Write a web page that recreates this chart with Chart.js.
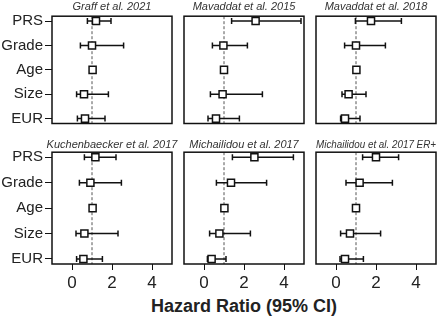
<!DOCTYPE html>
<html>
<head>
  <title>Hazard Ratio forest plots</title>
  <meta charset="UTF-8" />
  <script src="https://cdn.jsdelivr.net/npm/chart.js"></script>
  <style>
    body {
      margin: 0;
      width: 440px;
      height: 320px;
      overflow: hidden;
      position: relative;
      background: #fff;
      font-family: "Liberation Sans", Arial, sans-serif;
    }
    canvas { position: absolute; }
    #xtitle {
      position: absolute;
      left: 144px;
      width: 200px;
      top: 296px;
      line-height: 20px;
      text-align: center;
      font-weight: bold;
      font-size: 18px;
      color: #222;
      white-space: nowrap;
    }
  </style>
</head>
<body>
  <div id="xtitle">Hazard Ratio (95% CI)</div>

  <script>
    // categories (top to bottom) and study titles
    const categories = ['PRS', 'Grade', 'Age', 'Size', 'EUR'];
    const studies = [
      'Graff et al. 2021',
      'Mavaddat et al. 2015',
      'Mavaddat et al. 2018',
      'Kuchenbaecker et al. 2017',
      'Michailidou et al. 2017',
      'Michailidou et al. 2017 ER+'
    ];

    // hazard ratio, lower and upper 95% CI, one entry per category
    const hrGraff2021 = [1.2, 1.0, 1.03, 0.6, 0.65];
    const loGraff2021 = [0.77, 0.42, 0.97, 0.23, 0.27];
    const hiGraff2021 = [1.95, 2.58, 1.08, 1.82, 1.65];

    const hrMavaddat2015 = [2.58, 0.97, 1.0, 0.93, 0.6];
    const loMavaddat2015 = [1.38, 0.42, 0.95, 0.32, 0.2];
    const hiMavaddat2015 = [4.85, 2.17, 1.05, 2.92, 1.77];

    const hrMavaddat2018 = [1.75, 1.0, 1.02, 0.63, 0.45];
    const loMavaddat2018 = [0.97, 0.43, 0.97, 0.3, 0.23];
    const hiMavaddat2018 = [3.27, 2.47, 1.07, 1.5, 1.2];

    const hrKuchenbaecker2017 = [1.17, 0.92, 1.03, 0.62, 0.57];
    const loKuchenbaecker2017 = [0.62, 0.37, 0.98, 0.2, 0.23];
    const hiKuchenbaecker2017 = [2.2, 2.47, 1.08, 2.3, 1.52];

    const hrMichailidou2017 = [2.52, 1.35, 1.02, 0.77, 0.38];
    const loMichailidou2017 = [1.42, 0.62, 0.97, 0.28, 0.17];
    const hiMichailidou2017 = [4.47, 3.13, 1.07, 2.32, 1.1];

    const hrMichailidou2017ER = [2.0, 1.18, 1.0, 0.7, 0.45];
    const loMichailidou2017ER = [1.33, 0.5, 0.95, 0.23, 0.2];
    const hiMichailidou2017ER = [3.13, 2.82, 1.05, 2.23, 1.37];

    const xTicks = [0, 2, 4];
    const xMin = -1, xMax = 5;
    const yMin = -0.2, yMax = 4.2;
    const refValue = 1;

    const panelData = [
      [hrGraff2021, loGraff2021, hiGraff2021],
      [hrMavaddat2015, loMavaddat2015, hiMavaddat2015],
      [hrMavaddat2018, loMavaddat2018, hiMavaddat2018],
      [hrKuchenbaecker2017, loKuchenbaecker2017, hiKuchenbaecker2017],
      [hrMichailidou2017, loMichailidou2017, hiMichailidou2017],
      [hrMichailidou2017ER, loMichailidou2017ER, hiMichailidou2017ER]
    ];

    // canvas placement per column / row (left/right gutters keep the title centred)
    const colLayout = [
      { left: 0, width: 224, gutterL: 52, gutterR: 52, padLeft: 0, padRight: 0 },
      { left: 174, width: 140, gutterL: 0, gutterR: 0, padLeft: 10, padRight: 10 },
      { left: 306, width: 140, gutterL: 0, gutterR: 0, padLeft: 10, padRight: 10 }
    ];
    const rowLayout = [
      { top: 0, height: 130, titlePad: { top: 0, bottom: 3 }, padBottom: 4 },
      { top: 130, height: 160, titlePad: { top: 8, bottom: 1 }, padBottom: 0 }
    ];

    const FONT = '"Liberation Sans", Arial, sans-serif';
    const INK = '#111';

    const boxPlugin = {
      id: 'box',
      afterDatasetsDraw(chart) {
        const { ctx, chartArea: a } = chart;
        ctx.save();
        ctx.strokeStyle = INK;
        ctx.lineWidth = 1.5;
        ctx.strokeRect(a.left, a.top, a.right - a.left, a.bottom - a.top);
        ctx.restore();
      }
    };

    function noOverflow(s) {
      s.paddingTop = 0;
      s.paddingBottom = 0;
      s.paddingLeft = 0;
      s.paddingRight = 0;
    }

    function makePanel(idx) {
      const col = idx % 3, row = Math.floor(idx / 3);
      const c = colLayout[col], r = rowLayout[row];
      const [hr, lo, hi] = panelData[idx];

      const canvas = document.createElement('canvas');
      canvas.width = c.width;
      canvas.height = r.height;
      canvas.style.left = c.left + 'px';
      canvas.style.top = r.top + 'px';
      document.body.appendChild(canvas);

      const datasets = [];
      // squares
      datasets.push({
        data: categories.map((_, i) => ({ x: hr[i], y: i })),
        pointStyle: 'rect',
        pointRadius: 5,
        pointBackgroundColor: '#fff',
        pointBorderColor: INK,
        pointBorderWidth: 1.5,
        order: 0
      });
      // confidence intervals with caps
      categories.forEach((_, i) => {
        datasets.push({
          data: [{ x: lo[i], y: i }, { x: hi[i], y: i }],
          showLine: true,
          borderColor: INK,
          borderWidth: 1.5,
          pointStyle: 'line',
          pointRotation: 90,
          pointRadius: 3,
          pointBorderColor: INK,
          pointBorderWidth: 1.5,
          order: 1
        });
      });
      // dashed reference line at HR = 1
      datasets.push({
        data: [{ x: refValue, y: yMin }, { x: refValue, y: yMax }],
        showLine: true,
        borderColor: '#555',
        borderWidth: 1,
        borderDash: [3, 2],
        pointRadius: 0,
        order: 2
      });

      const showX = row === 1, showY = col === 0;

      new Chart(canvas, {
        type: 'scatter',
        data: { datasets },
        plugins: [boxPlugin],
        options: {
          responsive: false,
          animation: false,
          events: [],
          layout: { padding: { top: 0, bottom: r.padBottom, left: c.padLeft, right: c.padRight } },
          plugins: {
            legend: { display: false },
            tooltip: { enabled: false },
            title: {
              display: true,
              text: studies[idx],
              color: '#333',
              font: { family: FONT, size: 11, style: 'italic', weight: 'normal', lineHeight: 1.2 },
              padding: r.titlePad
            }
          },
          scales: {
            x: {
              type: 'linear',
              min: xMin,
              max: xMax,
              display: showX,
              afterBuildTicks: s => { s.ticks = xTicks.map(v => ({ value: v })); },
              afterFit: s => { s.height = showX ? 26 : 0; noOverflow(s); },
              grid: { display: true, drawOnChartArea: false, drawTicks: true, tickLength: 6, color: INK, lineWidth: 1 },
              border: { display: false },
              ticks: { color: '#222', font: { family: FONT, size: 17 }, padding: 3, maxRotation: 0 }
            },
            y: {
              type: 'linear',
              min: yMin,
              max: yMax,
              reverse: true,
              display: showY,
              afterBuildTicks: s => { s.ticks = categories.map((_, i) => ({ value: i })); },
              afterFit: s => { s.width = c.gutterL; noOverflow(s); },
              grid: { display: true, drawOnChartArea: false, drawTicks: true, tickLength: 7, color: INK, lineWidth: 1 },
              border: { display: false },
              ticks: {
                color: '#222',
                font: { family: FONT, size: 15 },
                padding: 2,
                callback: v => categories[v]
              }
            },
            // empty right gutter so the title centres over the box
            gutter: {
              type: 'linear',
              position: 'right',
              display: false,
              afterFit: s => { s.width = c.gutterR; noOverflow(s); }
            }
          }
        }
      });
    }

    for (let i = 0; i < studies.length; i++) makePanel(i);
  </script>
</body>
</html>
